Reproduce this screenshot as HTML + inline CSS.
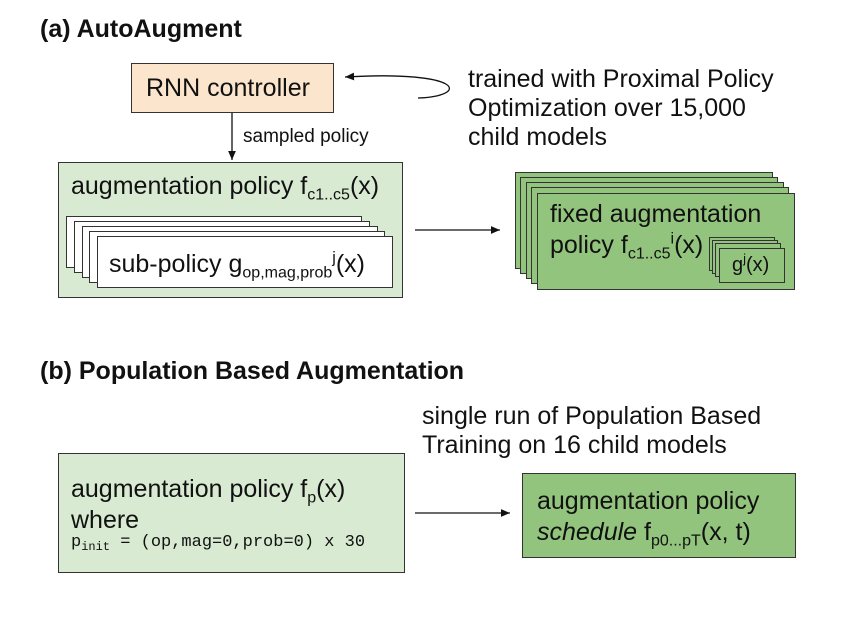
<!DOCTYPE html>
<html><head><style>
body{margin:0;background:#fff;}
#c{position:relative;width:843px;height:617px;overflow:hidden;font-family:"Liberation Sans",Arial,sans-serif;color:#111;}
.a{position:absolute;}
.t{font-size:25px;white-space:nowrap;line-height:1.2;}
.box{position:absolute;border:1.5px solid #333;box-sizing:border-box;}
sub{font-size:16px;vertical-align:-0.35em;line-height:0;}
sup{font-size:16px;vertical-align:0.6em;line-height:0;}
</style></head><body><div id="c">
<div class="a" style="left:40px;top:15px;font-size:25px;font-weight:bold;">(a) AutoAugment</div>
<div class="box" style="left:131px;top:63px;width:203px;height:50px;background:#fce5cd;"></div>
<div class="a t" style="left:146px;top:73px;">RNN controller</div>
<svg class="a" style="left:0;top:0" width="843" height="617">
<defs><marker id="m" markerWidth="8" markerHeight="8" refX="7" refY="4" orient="auto"><path d="M0,1 L7,4 L0,7z" fill="#111"/></marker></defs>
<path d="M418,98 C470,96 465,70 345,77" fill="none" stroke="#111" stroke-width="1.3" marker-end="url(#m)"/>
<line x1="232" y1="113" x2="232" y2="160" stroke="#111" stroke-width="1.3" marker-end="url(#m)"/>
<line x1="415" y1="230" x2="500" y2="230" stroke="#111" stroke-width="1.3" marker-end="url(#m)"/>
<line x1="415" y1="513" x2="510" y2="513" stroke="#111" stroke-width="1.3" marker-end="url(#m)"/>
</svg>
<div class="a t" style="left:468px;top:65px;line-height:29px;">trained with Proximal Policy<br>Optimization over 15,000<br>child models</div>
<div class="a" style="left:243px;top:126px;font-size:19px;">sampled policy</div>

<div class="box" style="left:58px;top:162px;width:345px;height:136px;background:#d9ead3;"></div>
<div class="a t" style="left:71px;top:171px;">augmentation policy f<sub>c1..c5</sub>(x)</div>
<div class="box" style="left:66px;top:216px;width:296px;height:52px;background:#fff;"></div>
<div class="box" style="left:74px;top:221px;width:296px;height:52px;background:#fff;"></div>
<div class="box" style="left:82px;top:226px;width:296px;height:52px;background:#fff;"></div>
<div class="box" style="left:89px;top:231px;width:296px;height:52px;background:#fff;"></div>
<div class="box" style="left:97px;top:236px;width:296px;height:52px;background:#fff;"></div>
<div class="a t" style="left:109px;top:249px;">sub-policy g<sub>op,mag,prob</sub><sup>j</sup>(x)</div>

<div class="box" style="left:515px;top:172px;width:258px;height:97px;background:#93c47d;"></div>
<div class="box" style="left:520px;top:177px;width:258px;height:97px;background:#93c47d;"></div>
<div class="box" style="left:526px;top:182px;width:258px;height:97px;background:#93c47d;"></div>
<div class="box" style="left:531px;top:187px;width:258px;height:97px;background:#93c47d;"></div>
<div class="box" style="left:537px;top:193px;width:258px;height:97px;background:#93c47d;"></div>
<div class="a t" style="left:550px;top:199px;line-height:31px;">fixed augmentation<br>policy f<sub>c1..c5</sub><sup>i</sup>(x)</div>
<div class="box" style="left:709px;top:237px;width:66px;height:34px;background:#93c47d;"></div>
<div class="box" style="left:712px;top:240px;width:66px;height:34px;background:#93c47d;"></div>
<div class="box" style="left:715px;top:243px;width:66px;height:34px;background:#93c47d;"></div>
<div class="box" style="left:719px;top:248px;width:66px;height:35px;background:#93c47d;"></div>
<div class="a" style="left:732px;top:254px;font-size:20px;">g<sup style="font-size:13px">j</sup>(x)</div>

<div class="a" style="left:40px;top:357px;font-size:25px;font-weight:bold;">(b) Population Based Augmentation</div>
<div class="a t" style="left:422px;top:402px;line-height:29px;">single run of Population Based<br>Training on 16 child models</div>
<div class="box" style="left:58px;top:453px;width:347px;height:120px;background:#d9ead3;"></div>
<div class="a t" style="left:71px;top:474px;line-height:31px;">augmentation policy f<sub>p</sub>(x)<br>where</div>
<div class="a" style="left:71px;top:533px;font-family:'Liberation Mono',monospace;font-size:17px;white-space:nowrap;">p<sub style="font-size:12px">init</sub> = (op,mag=0,prob=0) x 30</div>
<div class="box" style="left:522px;top:473px;width:274px;height:85px;background:#93c47d;"></div>
<div class="a t" style="left:537px;top:486px;line-height:31px;">augmentation policy<br><i>schedule</i> f<sub>p0...pT</sub>(x, t)</div>
</div></body></html>
